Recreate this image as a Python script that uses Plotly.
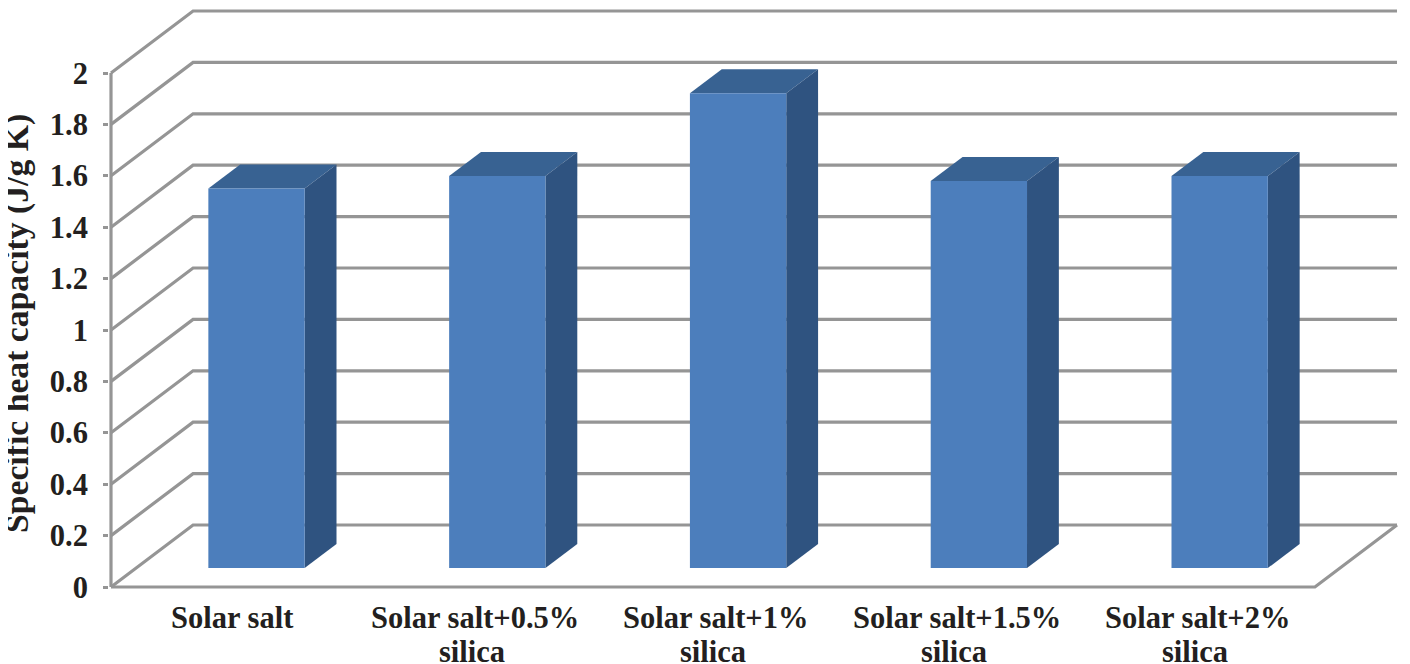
import plotly.graph_objects as go

categories = ["Solar salt", "Solar salt+0.5%", "Solar salt+1%", "Solar salt+1.5%", "Solar salt+2%"]
categories2 = ["", "silica", "silica", "silica", "silica"]
values = [1.477, 1.525, 1.847, 1.506, 1.525]
y_ticks = [0, 0.2, 0.4, 0.6, 0.8, 1, 1.2, 1.4, 1.6, 1.8, 2]
y_labels = ["0", "0.2", "0.4", "0.6", "0.8", "1", "1.2", "1.4", "1.6", "1.8", "2"]

# oblique projection, depth 0 = front edge of floor, depth 1 = back wall
OX = 82 / 240.6
OY = 62 / 257
BAR_W = 0.4
BAR_D0 = 0.306
BAR_D1 = 0.694
# plotly clips lines to the plot area, keep a little room round the edge ones
PAD_X = 2 / 240.6
PAD_Y = 2 / 257

GRID = "#959595"
FRONT = "#4c7ebc"
SIDE = "#2f5380"
TOP = "#386292"
TEXT = "#231f20"
FONT = "Liberation Serif"


def project(pos, val, depth):
    return pos + depth * OX, val + depth * OY


def poly(points, color):
    xs, ys = zip(*[project(*p) for p in points])
    return go.Scatter(x=list(xs) + [xs[0]], y=list(ys) + [ys[0]], mode="lines", fill="toself",
                      fillcolor=color, line=dict(width=0), hoverinfo="skip", showlegend=False)


def line(points):
    xs, ys = zip(*[project(*p) for p in points])
    return go.Scatter(x=xs, y=ys, mode="lines", line=dict(color=GRID, width=3.2),
                      hoverinfo="skip", showlegend=False)


left = -0.5
right = len(categories) - 0.5

fig = go.Figure()

# walls and floor
for t in y_ticks:
    fig.add_trace(line([(left, t, 0), (left, t, 1), (right, t, 1)]))
fig.add_trace(line([(right, 0, 1), (right, 0, 0), (left, 0, 0)]))
fig.add_trace(line([(left, 0, 0), (left, 2, 0)]))

# bars
for i, v in enumerate(values):
    a = i - BAR_W / 2
    b = i + BAR_W / 2
    fig.add_trace(poly([(a, v, BAR_D0), (b, v, BAR_D0), (b, v, BAR_D1), (a, v, BAR_D1)], TOP))
    fig.add_trace(poly([(b, 0, BAR_D0), (b, 0, BAR_D1), (b, v, BAR_D1), (b, v, BAR_D0)], SIDE))
    fig.add_trace(poly([(a, 0, BAR_D0), (b, 0, BAR_D0), (b, v, BAR_D0), (a, v, BAR_D0)], FRONT))

# page body adds 8px on the top and left, so the figure is 8px smaller
fig.update_layout(
    width=1402, height=656,
    margin=dict(l=101, r=11, t=1, b=75),
    paper_bgcolor="white", plot_bgcolor="white",
    showlegend=False,
    font=dict(family=FONT, size=30.5, color=TEXT, weight=700),
)
fig.update_xaxes(
    range=[left - PAD_X, right + OX + PAD_X], showgrid=False, zeroline=False, automargin=False,
    showticklabels=False, ticks="",
)
fig.update_yaxes(
    range=[-PAD_Y, 2 + OY + PAD_Y], showgrid=False, zeroline=False, automargin=False,
    tickmode="array", tickvals=y_ticks, ticktext=y_labels,
    ticks="outside", ticklen=5, tickwidth=3, tickcolor=GRID, ticklabelstandoff=9,
    tickfont=dict(family=FONT, size=30.5, color=TEXT, weight=700),
)

# two-line category labels, tick labels can't get the tighter line spacing
for i, (top_line, bottom_line) in enumerate(zip(categories, categories2)):
    fig.add_annotation(text=top_line, showarrow=False, xref="x", yref="paper", x=i, y=0,
                       xanchor="center", yanchor="top", xshift=3 if bottom_line else 1, yshift=-10)
    if bottom_line:
        # short box so it stays inside the page, "silica" has no descenders to lose
        fig.add_annotation(text=bottom_line, showarrow=False, xref="x", yref="paper", x=i, y=0,
                           xanchor="center", yanchor="top", yshift=-48, height=26)

fig.add_annotation(text="Specific heat capacity (J/g K)", textangle=-90, showarrow=False,
                   xref="paper", yref="paper", x=-0.0713, y=0.4569, xanchor="center", yanchor="middle",
                   font=dict(family=FONT, size=33.7, color=TEXT, weight=700))

fig.write_html("out.html")
